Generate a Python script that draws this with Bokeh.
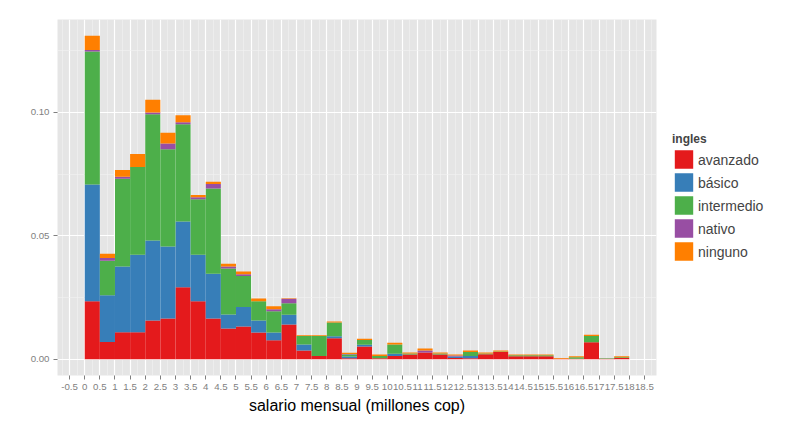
from bokeh.plotting import figure
from bokeh.models import (ColumnDataSource, Range1d, FixedTicker, Legend, LegendItem,
                          CDSView, IndexFilter)
from bokeh.embed import file_html
from bokeh.resources import INLINE

# ---------------- DATA ----------------
bin_center = [0.25, 0.75, 1.25, 1.75, 2.25, 2.75, 3.25, 3.75, 4.25, 4.75,
              5.25, 5.75, 6.25, 6.75, 7.25, 7.75, 8.25, 8.75, 9.25, 9.75,
              10.25, 10.75, 11.25, 11.75, 12.25, 12.75, 13.25, 13.75, 14.25, 14.75,
              15.25, 15.75, 16.25, 16.75, 17.25, 17.75]

categories = ["avanzado", "básico", "intermedio", "nativo", "ninguno"]

avanzado = [0.0235, 0.0070, 0.0110, 0.0110, 0.0157, 0.0165, 0.0292, 0.0235, 0.0165, 0.0125,
            0.0133, 0.0109, 0.0077, 0.0141, 0.0036, 0.0013, 0.0085, 0.0004, 0.0052, 0.0004,
            0.0013, 0.0020, 0.0028, 0.0020, 0.0005, 0.0004, 0.0021, 0.0030, 0.0012, 0.0012,
            0.0012, 0.0002, 0.0002, 0.0069, 0.0002, 0.0005]
basico = [0.0473, 0.0189, 0.0266, 0.0313, 0.0324, 0.0292, 0.0266, 0.0188, 0.0182, 0.0056,
          0.0079, 0.0048, 0.0032, 0.0039, 0.0024, 0.0000, 0.0008, 0.0007, 0.0007, 0.0000,
          0.0010, 0.0000, 0.0000, 0.0000, 0.0006, 0.0009, 0.0000, 0.0000, 0.0000, 0.0000,
          0.0000, 0.0000, 0.0000, 0.0000, 0.0000, 0.0000]
intermedio = [0.0538, 0.0140, 0.0355, 0.0356, 0.0511, 0.0394, 0.0394, 0.0225, 0.0345, 0.0187,
              0.0125, 0.0078, 0.0086, 0.0047, 0.0034, 0.0081, 0.0056, 0.0009, 0.0019, 0.0009,
              0.0037, 0.0004, 0.0000, 0.0004, 0.0000, 0.0017, 0.0003, 0.0002, 0.0004, 0.0004,
              0.0004, 0.0000, 0.0006, 0.0025, 0.0002, 0.0003]
nativo = [0.0007, 0.0011, 0.0008, 0.0000, 0.0007, 0.0023, 0.0008, 0.0008, 0.0018, 0.0008,
          0.0007, 0.0000, 0.0008, 0.0018, 0.0000, 0.0000, 0.0000, 0.0002, 0.0000, 0.0000,
          0.0000, 0.0000, 0.0008, 0.0000, 0.0004, 0.0000, 0.0000, 0.0000, 0.0000, 0.0000,
          0.0000, 0.0000, 0.0000, 0.0000, 0.0000, 0.0000]
ninguno = [0.0057, 0.0017, 0.0028, 0.0052, 0.0052, 0.0043, 0.0028, 0.0009, 0.0009, 0.0011,
           0.0012, 0.0011, 0.0012, 0.0002, 0.0003, 0.0003, 0.0004, 0.0005, 0.0005, 0.0007,
           0.0007, 0.0004, 0.0008, 0.0004, 0.0005, 0.0006, 0.0004, 0.0004, 0.0004, 0.0004,
           0.0004, 0.0003, 0.0004, 0.0005, 0.0000, 0.0004]

x_ticks = [-0.5, 0, 0.5, 1, 1.5, 2, 2.5, 3, 3.5, 4, 4.5, 5, 5.5, 6, 6.5, 7, 7.5, 8, 8.5, 9,
           9.5, 10, 10.5, 11, 11.5, 12, 12.5, 13, 13.5, 14, 14.5, 15, 15.5, 16, 16.5, 17,
           17.5, 18, 18.5]
x_tick_labels = ["-0.5", "0", "0.5", "1", "1.5", "2", "2.5", "3", "3.5", "4", "4.5", "5",
                 "5.5", "6", "6.5", "7", "7.5", "8", "8.5", "9", "9.5", "10", "10.5", "11",
                 "11.5", "12", "12.5", "13", "13.5", "14", "14.5", "15", "15.5", "16", "16.5",
                 "17", "17.5", "18", "18.5"]
x_minor_ticks = [-0.75, -0.25, 0.25, 0.75, 1.25, 1.75, 2.25, 2.75, 3.25, 3.75, 4.25, 4.75,
                 5.25, 5.75, 6.25, 6.75, 7.25, 7.75, 8.25, 8.75, 9.25, 9.75, 10.25, 10.75,
                 11.25, 11.75, 12.25, 12.75, 13.25, 13.75, 14.25, 14.75, 15.25, 15.75,
                 16.25, 16.75, 17.25, 17.75, 18.25, 18.75]
y_ticks = [0.0, 0.05, 0.10]
y_tick_labels = ["0.00", "0.05", "0.10"]
y_minor_ticks = [0.025, 0.075, 0.125]

colors = ["#E41A1C", "#377EB8", "#4DAF4A", "#984EA3", "#FF7F00"]
bin_width = 0.5

# ---------------- PLOT ----------------
FONT = "Liberation Sans"
source = ColumnDataSource(dict(x=bin_center, avanzado=avanzado, basico=basico,
                               intermedio=intermedio, nativo=nativo, ninguno=ninguno))
stackers = ["avanzado", "basico", "intermedio", "nativo", "ninguno"]

p = figure(frame_width=599, frame_height=356, output_backend="svg", toolbar_location=None,
           x_range=Range1d(-0.9, 18.9), y_range=Range1d(-0.00655, 0.1376),
           min_border_left=57, min_border_right=144, min_border_top=19, min_border_bottom=46)

p.background_fill_color = "#E5E5E5"
p.border_fill_color = "white"
p.outline_line_color = None

renderers = p.vbar_stack(stackers, x="x", width=bin_width, source=source,
                         fill_color=colors, line_color=None)

# key-only renderers (same source, nothing shown in the plot area): outlined in the
# series colour so the legend key fills its whole cell like ggplot's keys
empty_view = CDSView(filter=IndexFilter(indices=[]))
key_renderers = [p.vbar(x="x", top=s, width=bin_width, source=source, view=empty_view,
                        fill_color=c, line_color=c, line_width=4.6)
                 for s, c in zip(stackers, colors)]

# axes
p.xaxis.ticker = FixedTicker(ticks=x_ticks, minor_ticks=x_minor_ticks)
p.xaxis.major_label_overrides = {t: l for t, l in zip(x_ticks, x_tick_labels)}
p.yaxis.ticker = FixedTicker(ticks=y_ticks, minor_ticks=y_minor_ticks)
p.yaxis.major_label_overrides = {t: l for t, l in zip(y_ticks, y_tick_labels)}

for ax in (p.xaxis[0], p.yaxis[0]):
    ax.axis_line_color = None
    ax.major_tick_line_color = "#7F7F7F"
    ax.major_tick_out = 4
    ax.major_tick_in = 0
    ax.minor_tick_line_color = None
    ax.major_label_text_font = FONT
    ax.major_label_text_font_size = "9.7px"
    ax.major_label_text_color = "#7F7F7F"
    ax.major_label_standoff = 4

p.xaxis.axis_label = "salario mensual (millones cop)"
p.xaxis.axis_label_text_font = FONT
p.xaxis.axis_label_text_font_size = "16px"
p.xaxis.axis_label_text_font_style = "normal"
p.xaxis.axis_label_text_color = "black"
p.xaxis.axis_label_standoff = 4

# grid
for g in (p.xgrid[0], p.ygrid[0]):
    g.grid_line_color = "white"
    g.grid_line_width = 1.2
    g.minor_grid_line_color = "#F2F2F2"
    g.minor_grid_line_width = 0.6
p.xgrid.ticker = p.xaxis.ticker
p.ygrid.ticker = p.yaxis.ticker

# legend in the right-hand panel, vertically centred like ggplot
items = [LegendItem(label=c, renderers=[r, k])
         for c, r, k in zip(categories, renderers, key_renderers)]
legend = Legend(items=items, location="center_left", title="ingles",
                title_text_font=FONT, title_text_font_size="12px",
                title_text_font_style="bold", title_standoff=2,
                label_text_font=FONT, label_text_font_size="14px",
                glyph_width=23, glyph_height=23, label_height=23, label_standoff=3,
                spacing=0, padding=0, margin=16,
                border_line_color=None, background_fill_alpha=0)
p.add_layout(legend, "right")

open("out.html", "w").write(file_html(p, INLINE))
